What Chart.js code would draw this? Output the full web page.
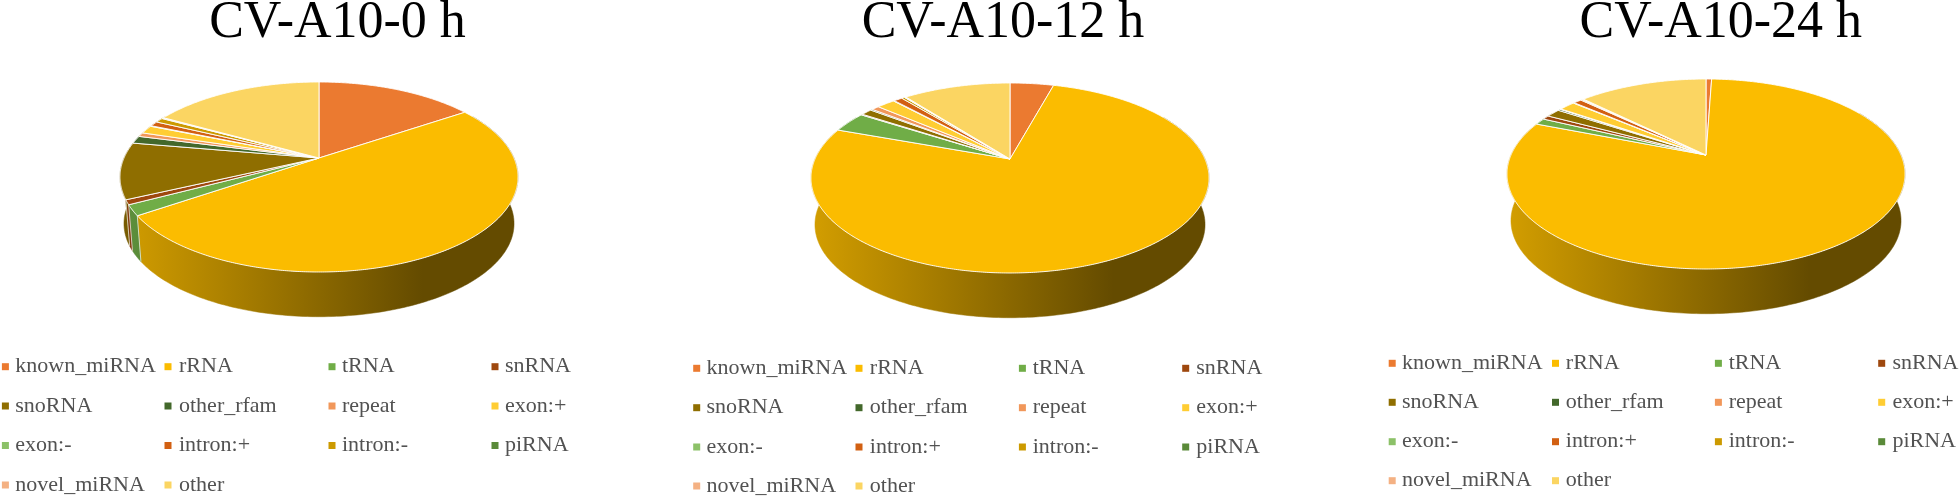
<!DOCTYPE html>
<html>
<head>
<meta charset="utf-8">
<script src="https://cdn.jsdelivr.net/npm/chart.js@4"></script>
<style>
html,body{margin:0;padding:0;background:#fff;width:1960px;height:500px;overflow:hidden}
canvas{position:absolute;top:0;display:block}
</style>
</head>
<body>
<canvas id="p0" width="660" height="500" style="left:0;width:660px;height:500px"></canvas>
<canvas id="p1" width="680" height="500" style="left:660px;width:680px;height:500px"></canvas>
<canvas id="p2" width="620" height="500" style="left:1340px;width:620px;height:500px"></canvas>
<script>
const categories = ['known_miRNA','rRNA','tRNA','snRNA','snoRNA','other_rfam','repeat','exon:+','exon:-','intron:+','intron:-','piRNA','novel_miRNA','other'];
const colors = ['#EB7A30','#FBBC00','#70AD47','#9E480E','#8F6E00','#43682B','#F1975A','#FFCD33','#8CC168','#D26012','#CC9A00','#5A8A39','#F4B183','#FBD562'];
const titles = ['CV-A10-0 h','CV-A10-12 h','CV-A10-24 h'];
const values0h  = [15.6,49.9,1.8,0.8,9.6,1.3,0.7,1.4,0.1,0.85,0.8,0.1,0.1,16.95];
const values12h = [4.3,76.2,3.5,0.15,1.1,0.2,0.75,1.8,0.1,0.85,0.3,0.05,0.1,10.6];
const values24h = [0.55,80.05,1.1,0.7,1.4,0.25,0.1,1.6,0.1,0.8,0.15,0.05,0.1,12.65];
const seriesValues = [values0h,values12h,values24h];

// Layout of each panel, in page pixels
const panels = [
  {id:'p0',ox:0,   cx:319, cy:158, titleX:337.5, mark:[5.4,168,332,495],  text:[15.3,179,342,505],   rows:[366.7,406,445.5,485]},
  {id:'p1',ox:660, cx:1010,cy:159, titleX:1003,  mark:[696.7,859,1022.4,1185.7], text:[706.5,869.8,1032.7,1196.3], rows:[368.3,407.7,447,486]},
  {id:'p2',ox:1340,cx:1706,cy:155, titleX:1720.8,mark:[1392.2,1555.5,1718.4,1881.7], text:[1402,1565.8,1728.7,1892.4], rows:[363.3,402.3,441.7,480.7]}
];
const PERSP = {R:195, B:91.2, k:0.2, depth:47, shrink:0.98};

function shade(hex,f){
  const n=parseInt(hex.slice(1),16);
  return `rgb(${Math.round((n>>16&255)*f)},${Math.round((n>>8&255)*f)},${Math.round((n&255)*f)})`;
}
function project(p,theta,bottom){
  const u=Math.sin(theta), v=-Math.cos(theta), w=1-PERSP.k*v, s=bottom?PERSP.shrink:1;
  return [p.cx-p.ox+s*PERSP.R*u/w, p.cy+(bottom?PERSP.depth:0)+s*PERSP.B*v/w];
}
const pie3d = {
  id:'pie3d',
  afterLayout(chart,args,opts){
    const p=opts.panel, tb=chart.titleBlock;
    const dx=(p.titleX-p.ox)-chart.width/2;
    tb.left+=dx; tb.right+=dx;
  },
  beforeDatasetDraw(chart,args,opts){
    const p=opts.panel, ctx=chart.ctx, arcs=chart.getDatasetMeta(0).data;
    const step=Math.PI/180;
    const lo=60*step, hi=300*step;
    const cxL=p.cx-p.ox;
    const edge=[];
    ctx.save();
    // side wall
    arcs.forEach((arc,i)=>{
      const a=Math.max(arc.startAngle+Math.PI/2,lo), b=Math.min(arc.endAngle+Math.PI/2,hi);
      if(b<=a) return;
      const col=colors[i];
      const g=ctx.createLinearGradient(cxL-199,0,cxL+199,0);
      g.addColorStop(0,shade(col,0.84));
      g.addColorStop(0.76,shade(col,0.40));
      g.addColorStop(1,shade(col,0.40));
      ctx.beginPath();
      for(let t=a;;t+=step){const q=project(p,Math.min(t,b),false);ctx.lineTo(q[0],q[1]);if(t>=b)break;}
      for(let t=b;;t-=step){const q=project(p,Math.max(t,a),true);ctx.lineTo(q[0],q[1]);if(t<=a)break;}
      ctx.closePath();
      ctx.fillStyle=g; ctx.fill();
      ctx.strokeStyle=g; ctx.lineWidth=0.5; ctx.stroke();
      edge.push(b);
    });
    // seams between wall pieces
    ctx.strokeStyle='rgba(255,255,255,0.85)'; ctx.lineWidth=0.8;
    edge.forEach(t=>{
      if(t>=hi) return;
      const q=project(p,t,false), r=project(p,t,true);
      ctx.beginPath();ctx.moveTo(q[0],q[1]);ctx.lineTo(r[0],r[1]);ctx.stroke();
    });
    // top face
    ctx.lineJoin='round';
    arcs.forEach((arc,i)=>{
      const a=arc.startAngle+Math.PI/2, b=arc.endAngle+Math.PI/2;
      ctx.beginPath();
      ctx.moveTo(cxL,p.cy);
      for(let t=a;;t+=step/2){const q=project(p,Math.min(t,b),false);ctx.lineTo(q[0],q[1]);if(t>=b)break;}
      ctx.closePath();
      ctx.fillStyle=colors[i]; ctx.fill();
      ctx.strokeStyle='#fff'; ctx.lineWidth=0.9; ctx.stroke();
    });
    ctx.restore();
    return false;
  },
  afterDraw(chart,args,opts){
    const p=opts.panel, ctx=chart.ctx;
    const items=Chart.overrides.pie.plugins.legend.labels.generateLabels(chart);
    ctx.save();
    ctx.font='22px "Liberation Serif"';
    ctx.textBaseline='middle';
    items.forEach((it,i)=>{
      const c=i%4, r=Math.floor(i/4);
      const y=p.rows[r];
      ctx.fillStyle=it.fillStyle;
      ctx.fillRect(p.mark[c]-p.ox-3.5,y-3.5,7,7);
      ctx.fillStyle='#525252';
      ctx.fillText(it.text,p.text[c]-p.ox,y);
    });
    ctx.restore();
  }
};
panels.forEach((p,i)=>{
  new Chart(document.getElementById(p.id),{
    type:'pie',
    data:{labels:categories,datasets:[{data:seriesValues[i],backgroundColor:colors,borderColor:'#fff',borderWidth:1}]},
    plugins:[pie3d],
    options:{
      responsive:false,animation:false,rotation:0,
      layout:{padding:0},
      plugins:{
        legend:{display:false},
        tooltip:{enabled:false},
        title:{display:true,text:titles[i],color:'#000',align:'center',
          font:{family:'"Liberation Serif"',size:52,weight:'normal',lineHeight:1},padding:{top:-3,bottom:0}},
        pie3d:{panel:p}
      }
    }
  });
});
</script>
</body>
</html>
